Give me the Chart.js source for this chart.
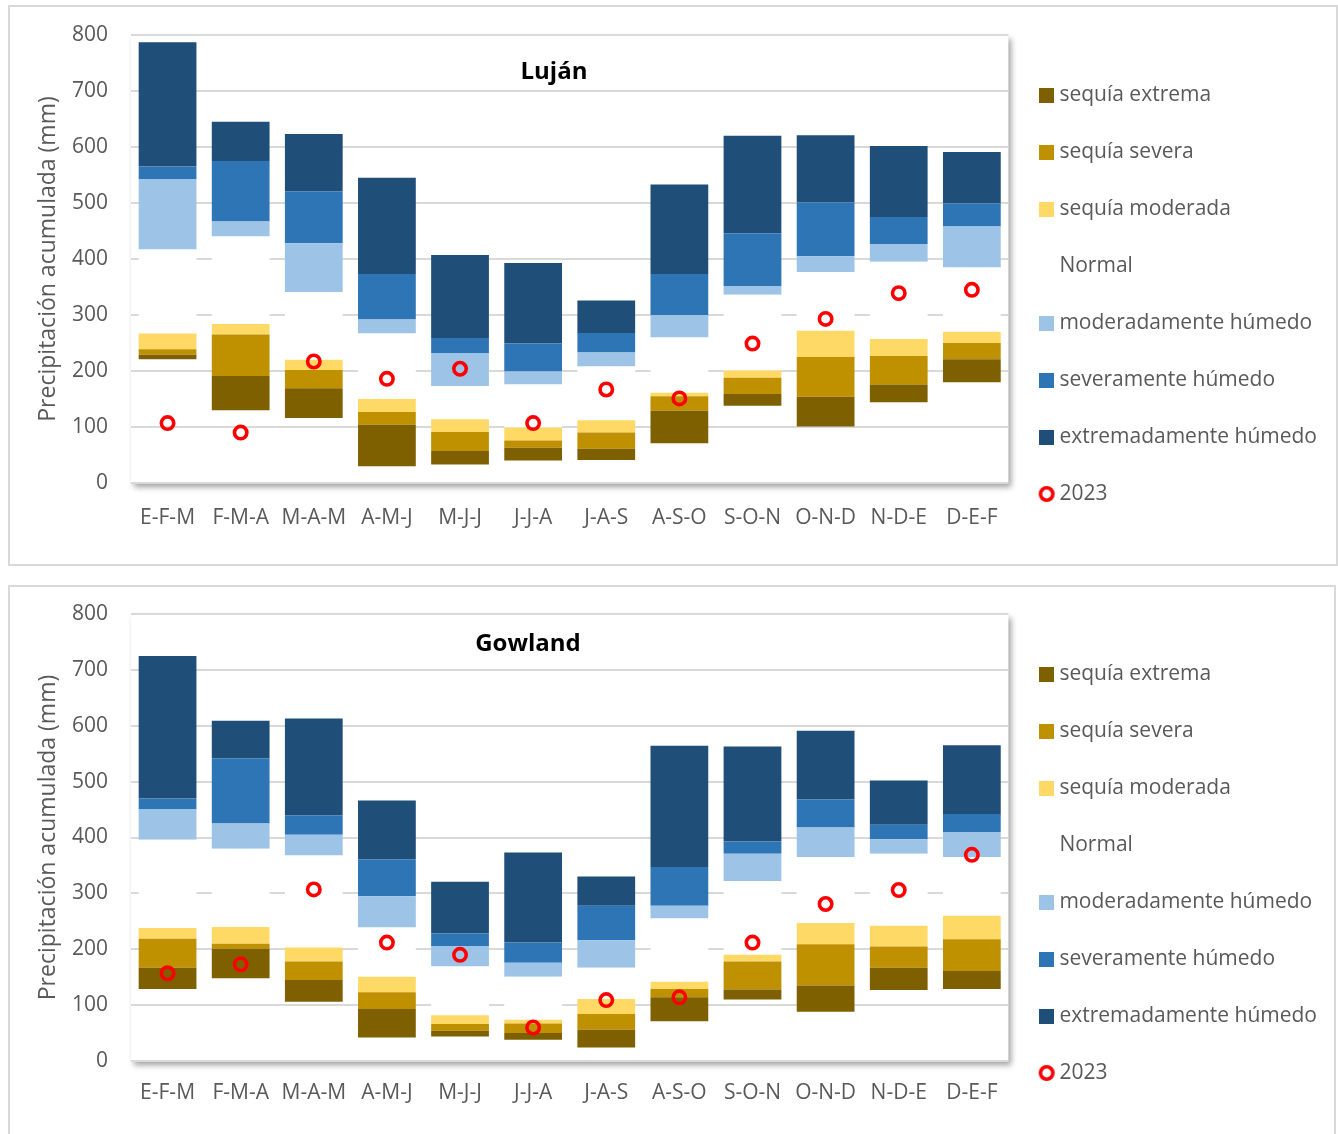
<!DOCTYPE html>
<html lang="es">
<head>
<meta charset="utf-8">
<title>Precipitación acumulada trimestral – Luján y Gowland</title>
<script src="https://cdn.jsdelivr.net/npm/chart.js@4.4.1/dist/chart.umd.min.js"></script>
<style>
  html, body { margin: 0; padding: 0; background: #ffffff; overflow: hidden; }
  .panel { position: absolute; box-sizing: border-box; border: 2px solid #d9d9d9; background: #ffffff; }
  #p1 { left: 8px; top: 5px; width: 1330px; height: 561px; }
  #p2 { left: 8px; top: 585px; width: 1328px; height: 560px; }
  canvas { display: block; }
</style>
</head>
<body>
<div class="panel" id="p1"><canvas id="c1" width="1326" height="557"></canvas></div>
<div class="panel" id="p2"><canvas id="c2" width="1324" height="547"></canvas></div>
<script>
// Three-month windows
const categories = ['E-F-M', 'F-M-A', 'M-A-M', 'A-M-J', 'M-J-J', 'J-J-A', 'J-A-S', 'A-S-O', 'S-O-N', 'O-N-D', 'N-D-E', 'D-E-F'];

// Luján – class limits of accumulated precipitation (mm)
const lujanLow    = [221, 130, 116,  30,  33,  40,  41,  71, 138, 101, 144, 180];
const lujanExtDry = [229, 191, 169, 104,  57,  63,  61, 129, 159, 154, 176, 221];
const lujanSevDry = [239, 265, 202, 127,  91,  76,  90, 155, 188, 225, 227, 250];
const lujanModDry = [267, 284, 220, 150, 114,  99, 112, 161, 201, 272, 257, 270];
const lujanModWet = [417, 440, 341, 267, 173, 176, 208, 260, 336, 377, 395, 385];
const lujanSevWet = [543, 467, 428, 292, 232, 199, 233, 300, 352, 405, 427, 458];
const lujanExtWet = [565, 575, 521, 373, 259, 249, 268, 373, 446, 501, 475, 499];
const lujanHigh   = [787, 645, 623, 545, 407, 393, 326, 533, 620, 621, 602, 591];
const lujan2023   = [107,  90, 217, 186, 204, 107, 167, 151, 249, 293, 339, 345];

// Gowland – class limits of accumulated precipitation (mm)
const gowlandLow    = [129, 148, 106,  42,  44,  38,  24,  71, 110,  88, 127, 129];
const gowlandExtDry = [167, 201, 145,  93,  54,  50,  56, 114, 128, 135, 167, 161];
const gowlandSevDry = [219, 210, 178, 123,  66,  67,  84, 129, 178, 209, 205, 218];
const gowlandModDry = [238, 240, 203, 151,  82,  74, 111, 142, 190, 247, 242, 260];
const gowlandModWet = [396, 380, 368, 239, 169, 151, 167, 255, 322, 365, 371, 365];
const gowlandSevWet = [451, 425, 405, 295, 206, 176, 216, 278, 371, 418, 397, 410];
const gowlandExtWet = [470, 542, 440, 361, 228, 212, 278, 347, 393, 468, 423, 442];
const gowlandHigh   = [725, 609, 613, 466, 321, 373, 330, 564, 563, 591, 502, 565];
const gowland2023   = [157, 173, 307, 212, 190,  60, 109, 114, 212, 281, 306, 369];

// Value axis
const yMin = 0, yMax = 800, yStep = 100;
const yTitle = 'Precipitación acumulada (mm)';

const FONT = '"Open Sans", "DejaVu Sans", sans-serif';
const TEXT = '#595959';

// Legend symbols: filled squares for the classes, a red ring for 2023
function squareSymbol(color) {
  const c = document.createElement('canvas');
  c.width = 15; c.height = 15;
  const g = c.getContext('2d');
  g.fillStyle = color;
  g.fillRect(0, 0, 15, 15);
  return c;
}
function ringSymbol() {
  const c = document.createElement('canvas');
  c.width = 20; c.height = 20;
  const g = c.getContext('2d');
  g.strokeStyle = '#ff0000';
  g.lineWidth = 3.6;
  g.beginPath();
  g.arc(10, 10, 6.2, 0, Math.PI * 2);
  g.stroke();
  return c;
}

// White plot area with a soft drop shadow
const plotShadow = {
  id: 'plotShadow',
  beforeDraw(chart) {
    const { ctx, chartArea: a } = chart;
    ctx.save();
    ctx.shadowColor = 'rgba(0,0,0,0.38)';
    ctx.shadowBlur = 6;
    ctx.shadowOffsetX = 3;
    ctx.shadowOffsetY = 4;
    ctx.fillStyle = '#ffffff';
    ctx.fillRect(a.left, a.top, a.right - a.left, a.bottom - a.top);
    ctx.restore();
  }
};

// Station name written inside the plot area
const stationTitle = {
  id: 'stationTitle',
  afterDraw(chart, args, opts) {
    const { ctx, chartArea: a } = chart;
    ctx.save();
    ctx.font = 'bold 24px ' + FONT;
    ctx.fillStyle = '#000000';
    ctx.textAlign = 'center';
    ctx.textBaseline = 'alphabetic';
    ctx.fillText(opts.text, a.left + opts.dx, a.top + opts.dy);
    ctx.restore();
  }
};

function makeChart(canvasId, name, limits, obs, lay) {
  const bands = [
    { label: 'sequía extrema',        color: '#7f6000', lo: limits[0], hi: limits[1] },
    { label: 'sequía severa',         color: '#bf9000', lo: limits[1], hi: limits[2] },
    { label: 'sequía moderada',       color: '#ffd966', lo: limits[2], hi: limits[3] },
    { label: 'Normal',                color: '#ffffff', lo: limits[3], hi: limits[4] },
    { label: 'moderadamente húmedo',  color: '#9dc3e6', lo: limits[4], hi: limits[5] },
    { label: 'severamente húmedo',    color: '#2e75b6', lo: limits[5], hi: limits[6] },
    { label: 'extremadamente húmedo', color: '#1f4e79', lo: limits[6], hi: limits[7] }
  ];

  const datasets = bands.map(b => ({
    type: 'bar',
    label: b.label,
    data: categories.map((_, i) => [b.lo[i], b.hi[i]]),
    backgroundColor: b.color,
    borderWidth: 0,
    grouped: false,
    barPercentage: 0.79,
    categoryPercentage: 1,
    order: 2
  }));

  datasets.push({
    type: 'line',
    label: '2023',
    data: obs,
    showLine: false,
    pointStyle: 'circle',
    pointRadius: 6.2,
    pointBorderWidth: 3.6,
    pointBorderColor: '#ff0000',
    pointBackgroundColor: 'rgba(0,0,0,0)',
    order: 0
  });

  const ring = ringSymbol();

  return new Chart(document.getElementById(canvasId), {
    data: { labels: categories, datasets },
    options: {
      responsive: false,
      animation: false,
      devicePixelRatio: 1,
      layout: { padding: { top: lay.top, right: lay.right, bottom: lay.bottom, left: 0 } },
      plugins: {
        tooltip: { enabled: false },
        stationTitle: { text: name, dx: lay.titleDx, dy: lay.titleDy },
        legend: {
          position: 'right',
          align: 'center',
          labels: {
            usePointStyle: true,
            pointStyleWidth: 4.5,
            boxHeight: 15,
            padding: 36,
            color: TEXT,
            font: { family: FONT, size: 21 },
            sort: (a, b) => a.datasetIndex - b.datasetIndex,
            generateLabels(chart) {
              const items = Chart.defaults.plugins.legend.labels.generateLabels(chart);
              return items.map(it => {
                const ds = chart.data.datasets[it.datasetIndex];
                it.pointStyle = ds.type === 'line' ? ring : squareSymbol(ds.backgroundColor);
                it.lineWidth = 0;
                return it;
              });
            }
          }
        }
      },
      scales: {
        x: {
          grid: { display: false },
          border: { display: false },
          ticks: { color: TEXT, font: { family: FONT, size: 21 }, padding: lay.xPad, maxRotation: 0 },
          afterFit(s) { s.height = lay.xHeight; }
        },
        y: {
          min: yMin,
          max: yMax,
          grid: { color: '#d9d9d9', lineWidth: 2, drawTicks: true, tickLength: 23, tickColor: 'rgba(0,0,0,0)' },
          border: { display: false },
          ticks: { stepSize: yStep, color: TEXT, font: { family: FONT, size: 21 }, padding: 0 },
          title: {
            display: true,
            text: yTitle,
            color: TEXT,
            font: { family: FONT, size: 23, weight: 'normal' },
            padding: { top: 25, bottom: 0 }
          },
          afterFit(s) { s.width = 121; }
        }
      }
    },
    plugins: [plotShadow, stationTitle]
  });
}

makeChart('c1', 'Luján',
  [lujanLow, lujanExtDry, lujanSevDry, lujanModDry, lujanModWet, lujanSevWet, lujanExtWet, lujanHigh],
  lujan2023,
  { top: 28, right: 9, bottom: 10, xHeight: 71, xPad: 14, titleDx: 423, titleDy: 44 });

makeChart('c2', 'Gowland',
  [gowlandLow, gowlandExtDry, gowlandSevDry, gowlandModDry, gowlandModWet, gowlandSevWet, gowlandExtWet, gowlandHigh],
  gowland2023,
  { top: 27, right: 7, bottom: 1, xHeight: 72, xPad: 11, titleDx: 397, titleDy: 37 });
</script>
</body>
</html>
